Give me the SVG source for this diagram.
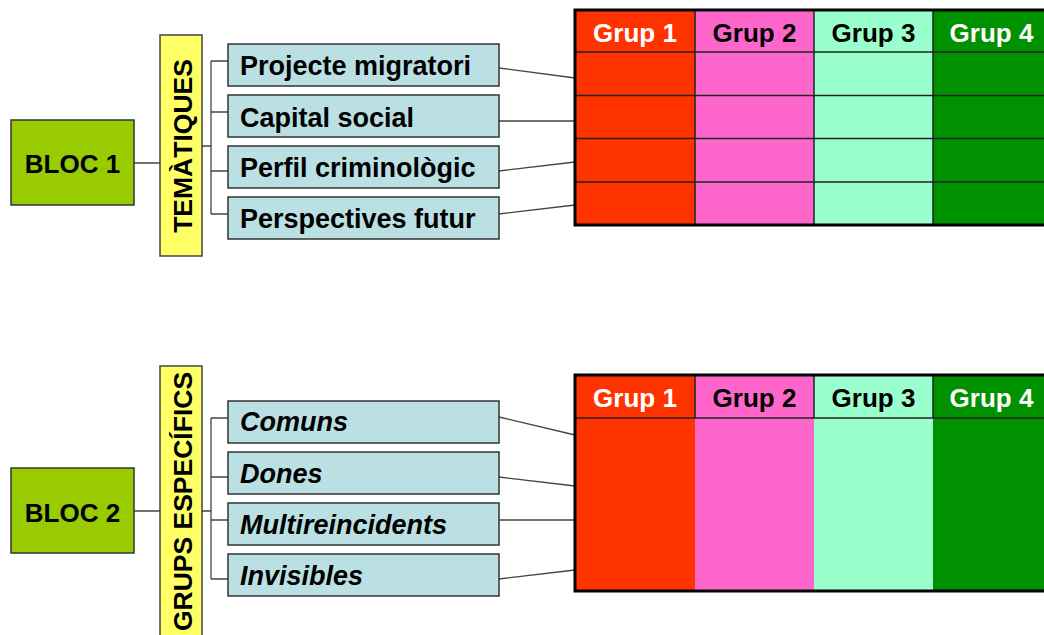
<svg xmlns="http://www.w3.org/2000/svg" width="1044" height="635" viewBox="0 0 1044 635">
<style>
text{font-family:"Liberation Sans",Arial,sans-serif;font-weight:bold;font-size:26px;fill:#000}
.bloc{fill:#99CC00;stroke:#333;stroke-width:1.5}
.yel{fill:#FFFF66;stroke:#444;stroke-width:1.5}
.item{fill:#BBE0E3;stroke:#333;stroke-width:1.5}
.lbl{font-size:27px}
.it{font-style:italic}
.vt{font-size:26.5px}
.con{fill:none;stroke:#444;stroke-width:1.3}
.r{fill:#FF3300}.p{fill:#FF66CC}.m{fill:#99FFCC}.g{fill:#009100}
.grid{stroke:#222;stroke-width:1.5;fill:none}
.outer{fill:none;stroke:#000;stroke-width:3}
.w{fill:#fff}
.mid{text-anchor:middle}
</style>
<g id="connectors">
<path class="con" d="M134 163H160M202 146H211M211 61V214M211 61H228M211 112H228M211 171H228M211 214H228"/>
<path class="con" d="M499 68L575 78M499 121H575M499 171L575 162M499 214L575 205"/>
<path class="con" d="M134 511H160M202 511H211M211 418V579M211 418H228M211 477H228M211 520H228M211 579H228"/>
<path class="con" d="M499 417L575 435M499 477L575 486M499 520H575M499 579L575 570"/>
</g>
<g id="bloc1"><rect class="bloc" x="11" y="120" width="123" height="85"/><text x="72.5" y="173" class="mid">BLOC 1</text></g>
<g id="tematiques"><rect class="yel" x="160" y="35" width="42" height="221"/><text class="mid vt" transform="translate(192,146) rotate(-90)">TEMÀTIQUES</text></g>
<g id="t1"><rect class="item" x="228" y="44" width="271" height="42"/><text class="lbl" x="240" y="75">Projecte migratori</text></g>
<g id="t2"><rect class="item" x="228" y="95" width="271" height="42"/><text class="lbl" x="240" y="126.5">Capital social</text></g>
<g id="t3"><rect class="item" x="228" y="146" width="271" height="42"/><text class="lbl" x="240" y="177">Perfil criminològic</text></g>
<g id="t4"><rect class="item" x="228" y="197" width="271" height="42"/><text class="lbl" x="240" y="228">Perspectives futur</text></g>
<g id="table1">
<rect class="r" x="575" y="10" width="120" height="215"/>
<rect class="p" x="695" y="10" width="119" height="215"/>
<rect class="m" x="814" y="10" width="119" height="215"/>
<rect class="g" x="933" y="10" width="130" height="215"/>
<path class="grid" d="M575 52H1060M575 95.5H1060M575 138.5H1060M575 182H1060M695 10V225M814 10V225M933 10V225"/>
<rect class="outer" x="575" y="10" width="490" height="215"/>
<text class="mid w" x="635" y="42">Grup 1</text>
<text class="mid" x="754.5" y="42">Grup 2</text>
<text class="mid" x="873.5" y="42">Grup 3</text>
<text class="mid w" x="991.5" y="42">Grup 4</text>
</g>
<g id="bloc2"><rect class="bloc" x="11" y="468" width="123" height="85"/><text x="72.5" y="521.5" class="mid">BLOC 2</text></g>
<g id="grups"><rect class="yel" x="160" y="366" width="42" height="280"/><text class="mid vt" transform="translate(192,501.5) rotate(-90)">GRUPS ESPECÍFICS</text></g>
<g id="b1"><rect class="item" x="228" y="401" width="271" height="42"/><text class="lbl it" x="240" y="431">Comuns</text></g>
<g id="b2"><rect class="item" x="228" y="452" width="271" height="42"/><text class="lbl it" x="240" y="482.5">Dones</text></g>
<g id="b3"><rect class="item" x="228" y="503" width="271" height="42"/><text class="lbl it" x="240" y="533.5">Multireincidents</text></g>
<g id="b4"><rect class="item" x="228" y="554" width="271" height="42"/><text class="lbl it" x="240" y="584.5">Invisibles</text></g>
<g id="table2">
<rect class="r" x="575" y="375" width="120" height="216"/>
<rect class="p" x="695" y="375" width="119" height="216"/>
<rect class="m" x="814" y="375" width="119" height="216"/>
<rect class="g" x="933" y="375" width="130" height="216"/>
<path class="grid" d="M575 418H1060M695 375V418M814 375V418M933 375V418"/>
<rect class="outer" x="575" y="375" width="490" height="216"/>
<text class="mid w" x="635" y="407">Grup 1</text>
<text class="mid" x="754.5" y="407">Grup 2</text>
<text class="mid" x="873.5" y="407">Grup 3</text>
<text class="mid w" x="991.5" y="407">Grup 4</text>
</g>
</svg>
